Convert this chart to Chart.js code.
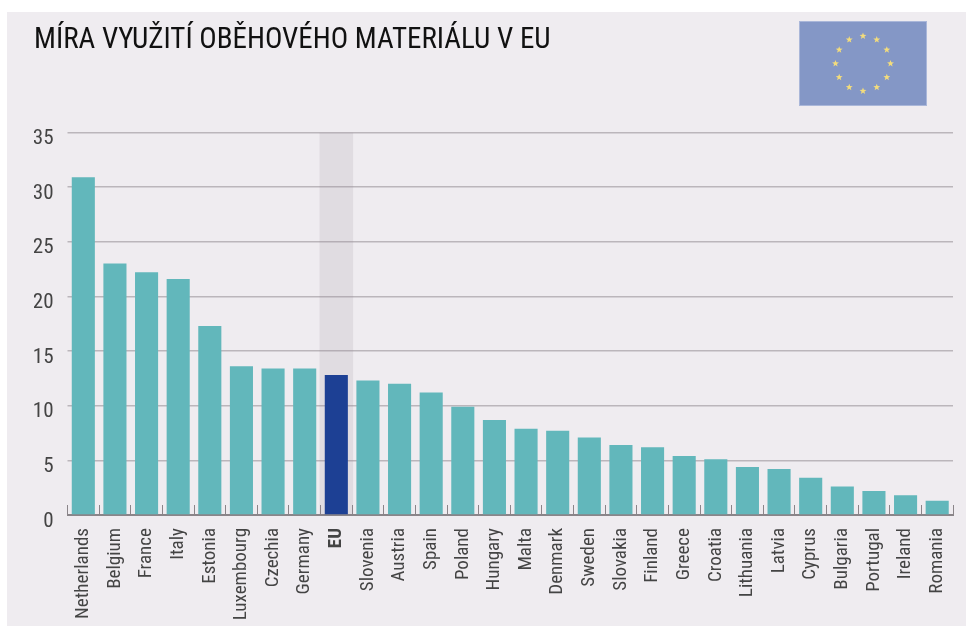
<!DOCTYPE html>
<html>
<head>
<meta charset="utf-8">
<title>Míra využití oběhového materiálu v EU</title>
<style>
  html, body { margin: 0; background: #fff; }
  #panel { position: absolute; left: 7px; top: 12px; width: 959px; height: 614px; background: #efecf0; }
  #chart { position: absolute; left: 0; top: 0; }
</style>
</head>
<body>
<div id="panel"></div>
<canvas id="chart" width="966" height="626"></canvas>
<script src="https://cdn.jsdelivr.net/npm/chart.js@4"></script>
<script>
const countries = ["Netherlands", "Belgium", "France", "Italy", "Estonia", "Luxembourg", "Czechia", "Germany", "EU", "Slovenia", "Austria", "Spain", "Poland", "Hungary", "Malta", "Denmark", "Sweden", "Slovakia", "Finland", "Greece", "Croatia", "Lithuania", "Latvia", "Cyprus", "Bulgaria", "Portugal", "Ireland", "Romania"];
const rates = [30.9, 23.0, 22.2, 21.6, 17.3, 13.6, 13.4, 13.4, 12.8, 12.3, 12.0, 11.2, 9.9, 8.7, 7.9, 7.7, 7.1, 6.4, 6.2, 5.4, 5.1, 4.4, 4.2, 3.4, 2.6, 2.2, 1.8, 1.3];
const euBand = countries.map((c) => (c === "EU" ? 35 : null));
const yTicks = [0, 5, 10, 15, 20, 25, 30, 35];
const chartTitle = "MÍRA VYUŽITÍ OBĚHOVÉHO MATERIÁLU V EU";

const narrow = "'Roboto Condensed', Roboto, sans-serif";

// EU flag top right
const flagPlugin = {
  id: "flag",
  afterDraw(chart) {
    const ctx = chart.ctx;
    ctx.save();
    ctx.fillStyle = "#8497c6";
    ctx.strokeStyle = "#aab7d9";
    ctx.fillRect(800, 22, 126, 83);
    ctx.strokeRect(799.5, 21.5, 127, 84);
    ctx.fillStyle = "#f3dc7c";
    for (let i = 0; i < 12; i++) {
      const a = (i * Math.PI) / 6;
      const cx = 863 + 27.5 * Math.sin(a);
      const cy = 63.5 - 27.5 * Math.cos(a);
      ctx.beginPath();
      for (let k = 0; k < 10; k++) {
        const r = k % 2 ? 1.5 : 3.6;
        const b = (k * Math.PI) / 5;
        ctx.lineTo(cx + r * Math.sin(b), cy - r * Math.cos(b));
      }
      ctx.closePath();
      ctx.fill();
    }
    ctx.restore();
  }
};

new Chart(document.getElementById("chart"), {
  type: "bar",
  plugins: [flagPlugin],
  data: {
    labels: countries,
    datasets: [
      {
        data: rates,
        order: 1,
        grouped: false,
        backgroundColor: countries.map((c) => (c === "EU" ? "#1d4094" : "#62b7bb")),
        barPercentage: 0.73,
        categoryPercentage: 1
      },
      {
        data: euBand,
        order: 2,
        grouped: false,
        backgroundColor: "rgba(150,135,150,0.16)",
        barPercentage: 1.06,
        categoryPercentage: 1
      }
    ]
  },
  options: {
    responsive: false,
    animation: false,
    layout: { autoPadding: false, padding: { left: 34, right: 13, top: 23, bottom: 0 } },
    plugins: {
      legend: { display: false },
      tooltip: { enabled: false },
      title: {
        display: true,
        text: chartTitle,
        align: "start",
        color: "#111",
        font: { family: narrow, size: 29, weight: "normal", lineHeight: 1.2 },
        padding: { top: 0, bottom: 74.6 }
      }
    },
    scales: {
      x: {
        afterFit(scale) {
          scale.height = 111;
          scale.paddingRight = 0;
          scale.paddingLeft = 0;
        },
        border: { color: "#8a8589", width: 2 },
        grid: { drawOnChartArea: false, tickLength: -10, tickColor: "#8a8589", tickWidth: 1 },
        ticks: {
          minRotation: 90,
          maxRotation: 90,
          autoSkip: false,
          padding: 23,
          color: "#444",
          font: (ctx) => ({ family: narrow, size: 19, weight: countries[ctx.index] === "EU" ? "bold" : "normal" })
        }
      },
      y: {
        min: 0,
        max: 35,
        afterFit(scale) { scale.width = 33.5; },
        afterBuildTicks(scale) { scale.ticks = yTicks.map((v) => ({ value: v })); },
        border: { display: false },
        grid: { color: "#bbb6bb", lineWidth: 1.5, tickLength: 0 },
        ticks: {
          padding: 14,
          color: "#444",
          font: { family: narrow, size: 21, lineHeight: 0.6 },
          callback: (v) => ["", String(v)]
        }
      }
    }
  }
});
</script>
</body>
</html>
